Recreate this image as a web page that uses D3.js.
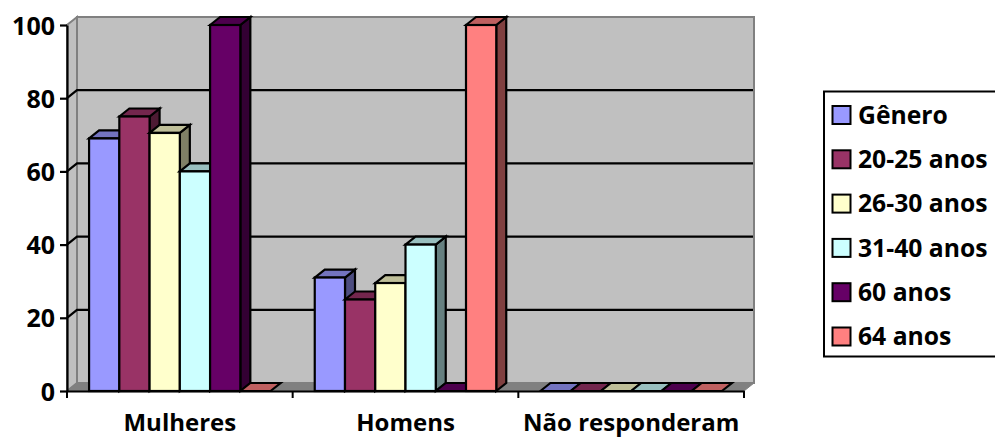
<!DOCTYPE html>
<html>
<head>
<meta charset="utf-8">
<script src="https://cdn.jsdelivr.net/npm/d3@7"></script>
<style>
html,body{margin:0;padding:0;background:#fff}
svg{display:block}
text{font-family:"Open Sans",Lato,sans-serif;font-weight:700;fill:#000}
</style>
</head>
<body>
<div id="chart"></div>
<script>
const categories = ["Mulheres", "Homens", "Não responderam"];
const seriesNames = ["Gênero", "20-25 anos", "26-30 anos", "31-40 anos", "60 anos", "64 anos"];
const seriesColors = ["#9999FF", "#993366", "#FFFFCC", "#CCFFFF", "#660066", "#FF8080"];
const genero = [69, 31, 0];
const anos20a25 = [75, 25, 0];
const anos26a30 = [70.5, 29.5, 0];
const anos31a40 = [60, 40, 0];
const anos60 = [100, 0, 0];
const anos64 = [0, 100, 0];
const seriesValues = [genero, anos20a25, anos26a30, anos31a40, anos60, anos64];
const yTicks = [0, 20, 40, 60, 80, 100];

const width = 995, height = 439;
const plotLeft = 67, plotRight = 744, plotTop = 25, plotBottom = 391;
const depthX = 10, depthY = -8;
const labelFont = "\"Open Sans\"";

const svg = d3.select("#chart").append("svg").attr("width", width).attr("height", height);

const y = d3.scaleLinear().domain([0, 100]).range([plotBottom, plotTop]);
const xCat = d3.scaleBand().domain(categories).range([plotLeft, plotRight]);
const xBar = d3.scaleBand().domain(d3.range(seriesNames.length))
  .range([0, xCat.bandwidth()]).paddingOuter(0.73).paddingInner(0);

const poly = pts => pts.map(p => p.join(",")).join(" ");
const back = ([px, py]) => [px + depthX, py + depthY];

// Box walls and floor
const walls = svg.append("g");
walls.append("polygon")
  .attr("points", poly([[plotLeft, y(0)], back([plotLeft, y(0)]), back([plotLeft, y(100)]), [plotLeft, y(100)]]))
  .attr("fill", "#C0C0C0").attr("stroke", "#808080").attr("stroke-width", 2);
walls.append("polygon")
  .attr("points", poly([back([plotLeft, y(0)]), back([plotRight, y(0)]), back([plotRight, y(100)]), back([plotLeft, y(100)])]))
  .attr("fill", "#C0C0C0").attr("stroke", "#808080").attr("stroke-width", 2);
walls.append("polygon")
  .attr("points", poly([[plotLeft, y(0)], back([plotLeft, y(0)]), back([plotRight, y(0)]), [plotRight, y(0)]]))
  .attr("fill", "#808080").attr("stroke", "#808080").attr("stroke-width", 1);

// Gridlines run along the back wall and step down the side wall to the axis
const grid = walls.append("g").attr("fill", "none").attr("stroke", "#000").attr("stroke-width", 2.2);
yTicks.filter(t => t > 0 && t < 100).forEach(t => {
  grid.append("polyline")
    .attr("points", poly([[plotLeft, y(t)], back([plotLeft, y(t)]), back([plotRight - 1, y(t)])]));
});

// Columns, drawn in series order so later faces overlap earlier ones
const shade = (c, k) => { const r = d3.rgb(c); return d3.rgb(r.r * k, r.g * k, r.b * k).formatHex(); };
const bars = svg.append("g").attr("stroke", "#000").attr("stroke-width", 2.2).attr("stroke-linejoin", "miter");
categories.forEach((cat, ci) => {
  seriesValues.forEach((vals, si) => {
    const x0 = xCat(cat) + xBar(si), x1 = x0 + xBar.bandwidth();
    const y0 = y(0), y1 = y(vals[ci]);
    const color = seriesColors[si];
    const g = bars.append("g");
    if (vals[ci] > 0) {
      g.append("polygon")
        .attr("points", poly([[x1, y0], back([x1, y0]), back([x1, y1]), [x1, y1]]))
        .attr("fill", shade(color, 0.5));
    }
    g.append("polygon")
      .attr("points", poly([[x0, y1], back([x0, y1]), back([x1, y1]), [x1, y1]]))
      .attr("fill", shade(color, 0.75));
    if (vals[ci] > 0) {
      g.append("rect")
        .attr("x", x0).attr("y", y1).attr("width", x1 - x0).attr("height", y0 - y1)
        .attr("fill", color);
    }
  });
});

// Axes
const yAxis = svg.append("g").attr("transform", `translate(${plotLeft},0)`)
  .call(d3.axisLeft(y).tickValues(yTicks).tickSize(0).tickPadding(12));
yAxis.selectAll("path").attr("stroke", "#000").attr("stroke-width", 2.2);
yAxis.selectAll(".tick line").attr("x2", -7).attr("stroke", "#000").attr("stroke-width", 2.2);
yAxis.selectAll("text").attr("font-size", 25).style("font-family", labelFont).attr("dy", "0.36em");

const xAxis = svg.append("g").attr("transform", `translate(0,${plotBottom})`)
  .call(d3.axisBottom(xCat).tickSize(0).tickPadding(23));
xAxis.select("path").attr("stroke", "#000").attr("stroke-width", 2.2);
xAxis.selectAll(".tick line").remove();
xAxis.selectAll("text").attr("font-size", 24).style("font-family", labelFont);
categories.concat([null]).forEach((c, i) => {
  const tx = plotLeft + i * xCat.step();
  xAxis.append("line").attr("x1", tx).attr("x2", tx).attr("y1", 0).attr("y2", 7)
    .attr("stroke", "#000").attr("stroke-width", 2);
});

// Legend
const legend = svg.append("g");
legend.append("rect").attr("x", 824).attr("y", 91.5).attr("width", 172).attr("height", 265)
  .attr("fill", "#fff").attr("stroke", "#000").attr("stroke-width", 2);
const legendY = d3.scalePoint().domain(seriesNames).range([115, 336.5]);
seriesNames.forEach((name, i) => {
  const cy = legendY(name);
  legend.append("rect").attr("x", 832.5).attr("y", cy - 9).attr("width", 18).attr("height", 18)
    .attr("fill", seriesColors[i]).attr("stroke", "#000").attr("stroke-width", 2);
  legend.append("text").attr("x", 858).attr("y", cy).attr("dy", "0.36em")
    .attr("font-size", 24.7).text(name);
});
</script>
</body>
</html>
